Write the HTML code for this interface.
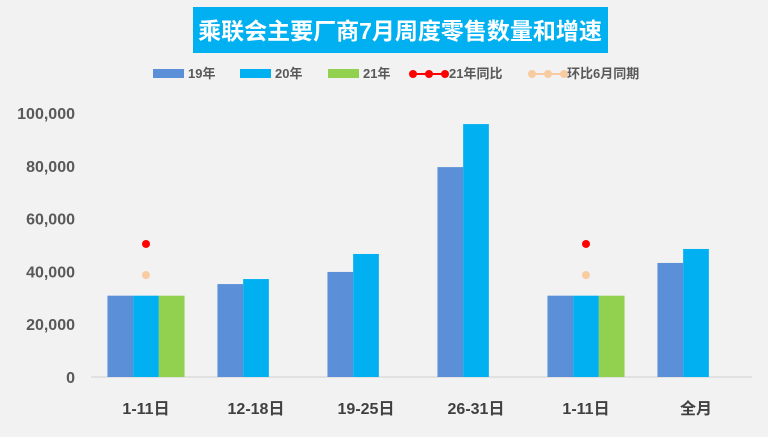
<!DOCTYPE html>
<html><head><meta charset="utf-8"><style>
body{margin:0;width:768px;height:432px;background:#f2f2f2;overflow:hidden;font-family:"Liberation Sans","Noto Sans CJK SC",sans-serif}
svg text{font-family:"Liberation Sans","Noto Sans CJK SC",sans-serif}
</style></head><body>
<svg id="c" width="768" height="432">
<rect x="193" y="7" width="415" height="46" fill="#00b0f0"/>
<text x="400" y="39" text-anchor="middle" font-size="23" font-weight="bold" fill="#fff">乘联会主要厂商7月周度零售数量和增速</text>
<g font-size="13" font-weight="bold" fill="#595959">
<rect x="153" y="69" width="31" height="9" fill="#5b8fd8"/><text x="188" y="78">19年</text>
<rect x="240" y="69" width="31" height="9" fill="#00b0f0"/><text x="275" y="78">20年</text>
<rect x="328" y="69" width="31" height="9" fill="#92d050"/><text x="363" y="78">21年</text>
<line x1="412" y1="74" x2="446" y2="74" stroke="#ff0000" stroke-width="2"/><circle cx="413" cy="74" r="4" fill="#f00"/><circle cx="429" cy="74" r="4" fill="#f00"/><circle cx="445" cy="74" r="4" fill="#f00"/><text x="449" y="78">21年同比</text>
<line x1="531" y1="74" x2="565" y2="74" stroke="#f8cba0" stroke-width="2"/><circle cx="532" cy="74" r="4" fill="#f8cba0"/><circle cx="548" cy="74" r="4" fill="#f8cba0"/><circle cx="564" cy="74" r="4" fill="#f8cba0"/><text x="567" y="78">环比6月同期</text>
</g>
<g id="plot"></g>
</svg>
<script>
const categories=["1-11日","12-18日","19-25日","26-31日","1-11日","全月"];
const s19=[30800,35200,39800,79500,30800,43200];
const s20=[30800,37100,46600,95800,30800,48500];
const s21=[30800,null,null,null,30800,null];
const yoy=[50.4,null,null,null,50.4,null];
const mom=[38.6,null,null,null,38.6,null];
const yTicks=[0,20000,40000,60000,80000,100000];
const NS="http://www.w3.org/2000/svg";
const g=document.getElementById('plot');
const x0=91,cw=110,yb=377,yt=113;
const y=v=>yb-(v/100000)*(yb-yt);
const y2=v=>yb-(v/100)*(yb-yt);
function mk(t,a){const e=document.createElementNS(NS,t);for(const k in a)e.setAttribute(k,a[k]);g.appendChild(e);return e;}
yTicks.forEach(v=>{
 const t=mk('text',{x:75,y:y(v)+6,'text-anchor':'end','font-size':16,'font-weight':'bold',fill:'#595959'});
 
 
 t.textContent=v.toLocaleString('en-US');
});
const ax=mk('line',{x1:x0,y1:yb,x2:752,y2:yb,stroke:'#d0d0d0'});


const bw=25.7;
const series=[[s19,'#5b8fd8','bar-19'],[s20,'#00b0f0','bar-20'],[s21,'#92d050','bar-21']];
categories.forEach((c,i)=>{
 const cx=x0+cw*i+cw/2;
 series.forEach(([arr,col,nm],j)=>{
  if(arr[i]==null)return;
  const r=mk('rect',{x:cx-bw*1.5+j*bw,y:y(arr[i]),width:bw,height:yb-y(arr[i]),fill:col});
  
  
 });
 if(yoy[i]!=null){const d=mk('circle',{cx:cx,cy:y2(yoy[i]),r:4,fill:'#ff0000'});
  
  }
 if(mom[i]!=null){const d=mk('circle',{cx:cx,cy:y2(mom[i]),r:4,fill:'#f8cba0'});
  
  }
 const t=mk('text',{x:cx,y:414,'text-anchor':'middle','font-size':16,'font-weight':'bold',fill:'#404040'});
 
 
 t.textContent=c;
});
</script>
</body></html>
